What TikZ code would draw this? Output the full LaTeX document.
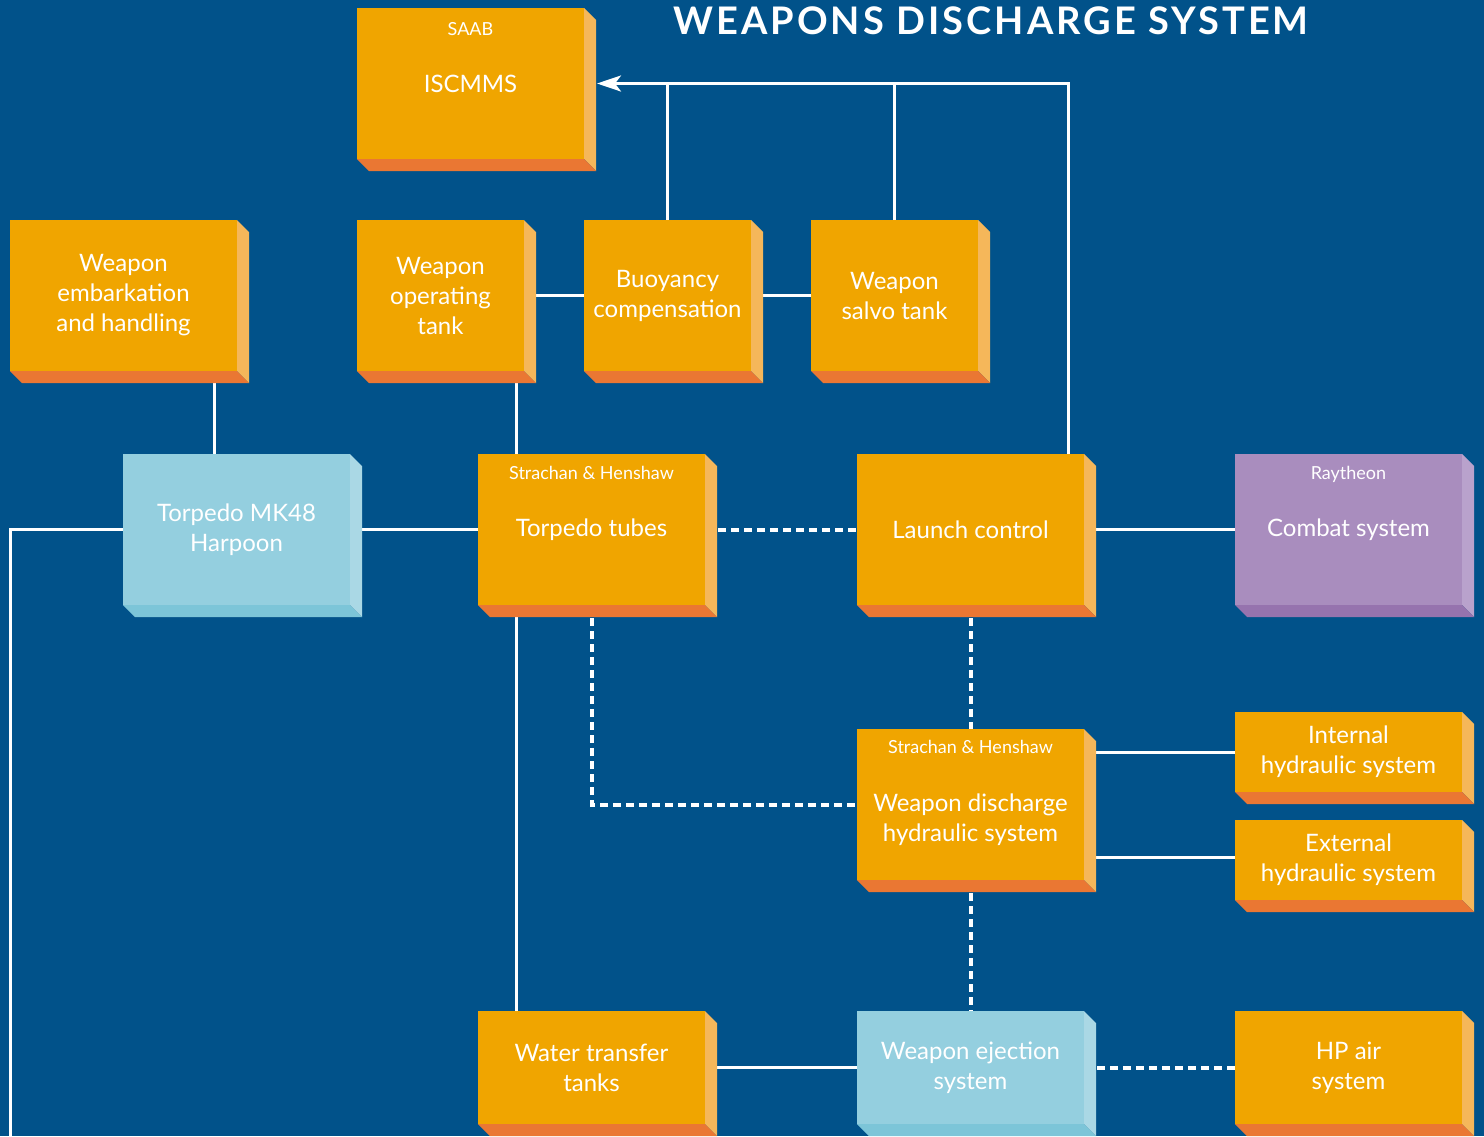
\documentclass[tikz,border=0pt]{standalone}
\usepackage{fontspec}
\setmainfont{Lato}
\usetikzlibrary{positioning,arrows.meta}

\definecolor{sea}{HTML}{01528A}
\definecolor{amberface}{HTML}{F0A500}
\definecolor{amberside}{HTML}{F5B75A}
\definecolor{amberfoot}{HTML}{EA7733}
\definecolor{iceface}{HTML}{94CFDF}
\definecolor{iceside}{HTML}{AAD8E5}
\definecolor{icefoot}{HTML}{7CC5D8}
\definecolor{lilacface}{HTML}{A98DBE}
\definecolor{lilacside}{HTML}{B9A2CC}
\definecolor{lilacfoot}{HTML}{9673AE}

\pgfdeclarelayer{background}
\pgfsetlayers{background,main}

\tikzset{every picture/.style={line width=1.5pt}}
\tikzset{
  unit/.style={inner sep=0pt, outer sep=0pt, anchor=north west, align=center,
    text=white, font=\fontsize{12}{15}\selectfont},
  big/.style={minimum width=113.5pt, minimum height=75.5pt},
  slim/.style={minimum width=83.5pt, minimum height=75.5pt},
  flat/.style={minimum width=113.5pt, minimum height=40pt},
  low/.style={minimum width=113.5pt, minimum height=56.5pt},
  amber/.style={fill=amberface},
  ice/.style={fill=iceface},
  lilac/.style={fill=lilacface},
  maker/.style={inner sep=0pt, text=white, font=\fontsize{9}{10}\selectfont},
  link/.style={draw=white, line width=1.5pt},
  signal/.style={link, line width=2pt, dash pattern=on 4pt off 2.5pt},
}

\begin{document}
\begin{tikzpicture}[x=0.5pt, y=-0.5pt]
  \begin{pgfonlayer}{background}
    \fill[sea] (0,0) rectangle (1484,1136);
  \end{pgfonlayer}
  \useasboundingbox (0,0) rectangle (1484,1136);

  \node[inner sep=0pt, text=white, font=\fontsize{19}{19}\bfseries\addfontfeatures{LetterSpace=8}] (title) at (991,21) {WEAPONS DISCHARGE SYSTEM};

  % top row
  \node[unit, big, amber] (iscmms) at (357,8) {ISCMMS};
  \node[unit, big, amber] (embark) at (10,220) {Weapon\\embarkation\\and handling};
  \node[unit, slim, amber] (optank) at (357,220) {Weapon\\operating\\tank};
  \node[unit, slim, amber] (buoy) at (584,220) {Buoyancy\\compensation};
  \node[unit, slim, amber] (salvo) at (811,220) {Weapon\\salvo tank};

  % middle row
  \node[unit, big, ice] (mk48) at (123,454) {Torpedo MK48\\Harpoon};
  \node[unit, big, amber] (tubes) at (478,454) {Torpedo tubes};
  \node[unit, big, amber] (launch) at (857,454) {Launch control};
  \node[unit, big, lilac] (combat) at (1235,454) {Combat system};

  % hydraulics
  \node[unit, big, amber] (wdhs) at (857,729) {\rule{0pt}{24pt}Weapon discharge\\hydraulic system};
  \node[unit, flat, amber] (inthyd) at (1235,712) {Internal\\hydraulic system};
  \node[unit, flat, amber] (exthyd) at (1235,820) {External\\hydraulic system};

  % bottom row
  \node[unit, low, amber] (water) at (478,1011) {Water transfer\\tanks};
  \node[unit, low, ice] (eject) at (857,1011) {Weapon ejection\\system};
  \node[unit, low, amber] (hpair) at (1235,1011) {HP air\\system};

  % makers
  \node[maker, below=7pt of iscmms.north] (saab) {SAAB};
  \node[maker, below=6pt of tubes.north] (tubes-by) {Strachan \& Henshaw};
  \node[maker, below=6pt of combat.north] (combat-by) {Raytheon};
  \node[maker, below=5.5pt of wdhs.north] (wdhs-by) {Strachan \& Henshaw};

  % 3d edges
  \foreach \n in {iscmms,embark,optank,buoy,salvo,tubes,launch,wdhs,inthyd,exthyd,water,hpair} {
    \fill[amberside] (\n.north east) -- ++(6pt,-6pt) -- ([shift={(6pt,-6pt)}]\n.south east) -- (\n.south east) -- cycle;
    \fill[amberfoot] (\n.south west) -- (\n.south east) -- ++(6pt,-6pt) -- ([shift={(6pt,-6pt)}]\n.south west) -- cycle;
  }
  \foreach \n in {mk48,eject} {
    \fill[iceside] (\n.north east) -- ++(6pt,-6pt) -- ([shift={(6pt,-6pt)}]\n.south east) -- (\n.south east) -- cycle;
    \fill[icefoot] (\n.south west) -- (\n.south east) -- ++(6pt,-6pt) -- ([shift={(6pt,-6pt)}]\n.south west) -- cycle;
  }
  \fill[lilacside] (combat.north east) -- ++(6pt,-6pt) -- ([shift={(6pt,-6pt)}]combat.south east) -- (combat.south east) -- cycle;
  \fill[lilacfoot] (combat.south west) -- (combat.south east) -- ++(6pt,-6pt) -- ([shift={(6pt,-6pt)}]combat.south west) -- cycle;

  \coordinate (edge) at (10,1140);

  \begin{pgfonlayer}{background}
    % solid links
    \draw[link, -{Stealth[length=12pt, width=8pt, inset=3pt]}] ([xshift=-8pt]launch.north east) |- ([xshift=6.5pt]iscmms.east);
    \draw[link] (buoy.north) -- (buoy.north |- iscmms.east);
    \draw[link] (salvo.north) -- (salvo.north |- iscmms.east);
    \draw[link] (optank) -- (buoy);
    \draw[link] (buoy) -- (salvo);
    \draw[link] ([xshift=-11.5pt]embark.south east) -- ([xshift=-11.5pt]embark.south east |- mk48.north);
    \draw[link] ([xshift=-4pt]optank.south east) -- ([xshift=-4pt]optank.south east |- tubes.north);
    \draw[link] ([xshift=-4pt]optank.south east |- tubes.south) -- ([xshift=-4pt]optank.south east |- water.north);
    \draw[link] (mk48) -- (tubes);
    \draw[link] (mk48.west) -| (edge);
    \draw[link] (launch) -- (combat);
    \draw[link] (inthyd.west -| wdhs.east) -- (inthyd.west);
    \draw[link] ([yshift=1.5pt]exthyd.west -| wdhs.east) -- ([yshift=1.5pt]exthyd.west);
    \draw[link] (water) -- (eject);
    % signal links
    \draw[signal] (tubes) -- (launch);
    \draw[signal] (tubes.south) |- (wdhs.west);
    \draw[signal] (launch.south) -- (wdhs.north);
    \draw[signal] (wdhs.south) -- (eject.north);
    \draw[signal] (eject) -- (hpair);
  \end{pgfonlayer}
\end{tikzpicture}
\end{document}
